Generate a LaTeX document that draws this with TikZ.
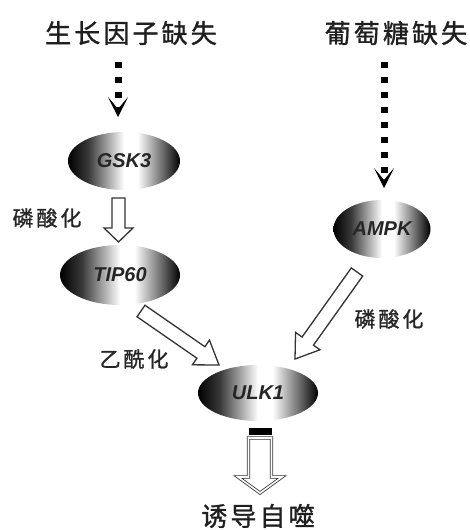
\documentclass[tikz,border=0pt]{standalone}
\usepackage{fontspec}
\setmainfont{Liberation Sans}
\newfontfamily\cjkT{Noto Sans CJK SC}[LetterSpace=12,FakeBold=1.2]
\newfontfamily\cjkL{Noto Sans CJK SC}[LetterSpace=14,FakeBold=1.2]
\usetikzlibrary{shapes.geometric,arrows.meta,calc}
\pgfdeclarehorizontalshading{ellshade}{100bp}{color(0bp)=(black); color(25bp)=(black); color(34bp)=(black!78); color(50bp)=(white); color(56bp)=(white); color(68bp)=(black!62); color(75bp)=(black); color(100bp)=(black)}
\tikzset{
  titletext/.style={inner sep=0pt, font=\fontsize{26}{26}\cjkT, text=black!88},
  labtext/.style={inner sep=0pt, font=\fontsize{21}{21}\cjkL, text=black!85},
  enz/.style={ellipse, inner sep=0pt, shading=ellshade, text=black!85,
    font=\fontsize{20}{20}\selectfont\bfseries\itshape},
  dotarrow/.style={line width=7pt, dash pattern=on 6pt off 9pt, black,
    -{Stealth[length=20pt,width=20pt,inset=12pt,line width=0.5pt]}},
  barrow/.style={draw=black!80, line width=1.3pt, fill=white, line join=miter},
  barrowdouble/.style={draw=black!80, line width=0.8pt, double=white, double distance=1.6pt, fill=white, line join=miter}
}
% #1 style, #2 tail, #3 tip, #4 half shaft width, #5 half head width, #6 head length
\newcommand\blockarrow[6][barrow]{%
  \coordinate (hb) at ($(#3)!#6!(#2)$);
  \draw[#1] ($(#2)!#4!90:(#3)$) -- ($(hb)!#4!90:(#3)$) -- ($(hb)!#5!90:(#3)$) -- (#3)
    -- ($(hb)!#5!-90:(#3)$) -- ($(hb)!#4!-90:(#3)$) -- ($(#2)!#4!-90:(#3)$) -- cycle;}
\begin{document}
\begin{tikzpicture}[x=1pt,y=-1pt]
\useasboundingbox (0,0) rectangle (470,530);
\fill[white] (0,0) rectangle (470,530);
% titles
\node[titletext] (gf) at (131,33) {生长因子缺失};
\node[titletext] (glc) at (396,33) {葡萄糖缺失};
% enzymes
\node[enz, minimum width=112pt, minimum height=58pt] (gsk) at (124,161) {GSK3};
\node[enz, minimum width=120pt, minimum height=60pt] (tip) at (120,275) {TIP60};
\node[enz, minimum width=97pt, minimum height=58pt] (ampk) at (382,229) {AMPK};
\node[enz, minimum width=120pt, minimum height=56pt] (ulk) at (258,393) {ULK1};
% labels
\node[labtext] (p1) at (47,218) {磷酸化};
\node[labtext] (p2) at (389,319) {磷酸化};
\node[labtext] (ac) at (134,359) {乙酰化};
\node[titletext] (auto) at (258,516) {诱导自噬};
% dotted arrows
\coordinate (d1s) at (118,62); \coordinate (d1e) at (118,117);
\coordinate (d2s) at (384,62); \coordinate (d2e) at (384,188);
\draw[dotarrow] (d1s) -- (d1e);
\draw[dotarrow] (d2s) -- (d2e);
% hollow arrows
\coordinate (a1t) at (118.5,198); \coordinate (a1h) at (118.5,242);
\coordinate (a2t) at (141,311);   \coordinate (a2h) at (219,365);
\coordinate (a3t) at (357,272);   \coordinate (a3h) at (295,359);
\coordinate (a4t) at (260,438);   \coordinate (a4h) at (260,493);
\blockarrow{a1t}{a1h}{6.5pt}{14.5pt}{14pt}
\blockarrow{a2t}{a2h}{7pt}{15pt}{22pt}
\blockarrow{a3t}{a3h}{7pt}{15pt}{22pt}
\blockarrow[barrowdouble]{a4t}{a4h}{11.5pt}{22pt}{16pt}
\node[fill=black, minimum width=23pt, minimum height=7pt, inner sep=0pt] (bar) at (260.5,431.5) {};
\end{tikzpicture}
\end{document}
